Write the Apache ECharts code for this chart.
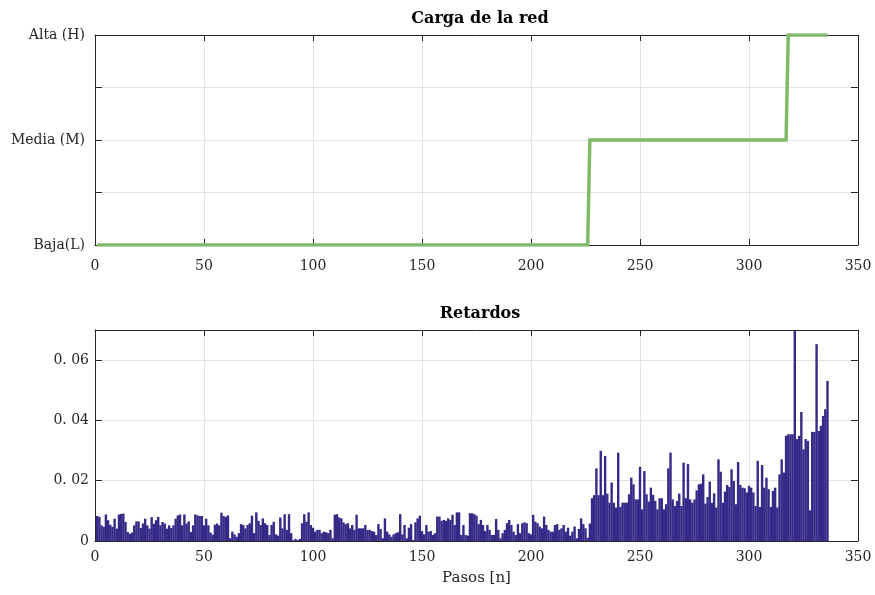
<!DOCTYPE html>
<html>
<head>
<meta charset="utf-8">
<script src="https://cdn.jsdelivr.net/npm/echarts@6/dist/echarts.min.js"></script>
<style>
html,body{margin:0;padding:0;background:#fff;}
#chart{width:875px;height:595px;}
</style>
</head>
<body>
<div id="chart"></div>
<script>
// ---- Data ----
// Network load: step change points (step index, level 1=Baja, 2=Media, 3=Alta)
const loadSteps = [1, 226, 227, 317, 318, 336];
const loadLevels = [1, 1, 2, 2, 3, 3];
const loadLevelLabels = ['Baja(L)', 'Media (M)', 'Alta (H)'];

// Delays per step n = 1..336, in thousandths (x 0.001)
const delaysMilli = [
  8.3, 8.0, 5.2, 4.7, 8.8, 6.9, 5.4, 4.7, 7.4, 4.1, 8.8, 9.0, 9.1, 6.3, 3.0, 2.4, 2.8, 5.2, 6.5, 6.5,
  4.3, 5.8, 7.4, 5.2, 4.1, 7.9, 5.7, 6.9, 8.0, 5.2, 6.3, 5.8, 4.1, 5.2, 4.3, 5.2, 7.4, 8.5, 8.8, 5.2,
  8.8, 5.8, 6.5, 3.0, 5.2, 8.8, 8.5, 8.3, 8.3, 5.2, 7.4, 5.2, 2.8, 2.1, 5.4, 5.8, 5.2, 9.4, 8.3, 8.0,
  8.5,
  0.9, 3.1, 2.2, 1.4, 2.6, 5.6, 5.3, 4.2, 5.3, 5.9, 8.4, 2.6, 9.5, 6.7, 5.3, 7.5, 5.9, 5.3, 2.0, 5.3,
  6.4, 2.2, 1.8, 7.8, 4.2, 8.9, 3.7, 8.9, 2.6, 0.3, 0.7, 0.3, 0.7, 5.9, 8.9, 6.4, 9.5, 5.3, 4.4, 3.1,
  3.7, 3.7, 2.6, 3.1, 2.9, 2.6, 3.7, 0.9, 8.7, 8.9, 7.8, 7.5, 6.2, 5.6, 5.9, 4.2, 5.3, 3.7, 8.7, 4.2,
  4.2, 4.2,
  5.3, 3.7, 3.7, 3.3, 3.1, 2.0, 5.6, 4.0, 0.9, 7.5, 3.1, 2.2, 1.4, 2.2, 2.6, 2.9, 8.9, 2.2, 5.3, 0.9,
  4.4, 5.6, 0.3, 6.2, 7.5, 8.4, 3.3, 2.2, 5.3, 3.1, 3.3, 2.0, 2.6, 8.1, 8.1, 6.7, 7.0, 6.7, 7.5, 7.0,
  8.7, 5.3, 9.5, 9.5, 2.0, 5.3, 2.0, 1.8, 9.2, 9.2, 8.9, 8.4, 5.6, 7.0, 5.3, 3.3, 5.3, 3.7, 2.0, 2.0,
  7.3, 3.7, 0.9, 2.6, 3.7, 5.9, 7.0, 5.3, 3.1, 2.0, 5.6, 2.6, 5.9, 6.2, 5.9, 2.6, 2.2, 8.7, 6.4, 5.9,
  4.8, 4.2, 8.1, 5.3, 3.7, 3.1, 3.1, 5.3, 5.6, 3.7, 4.2, 5.3, 3.1, 4.4, 1.8, 3.1, 4.8, 0.9, 4.0, 7.5,
  5.6,
  4.2, 1.1, 5.8, 14.2, 15.2, 24.1, 15.2, 29.9, 15.2, 28.2, 15.7, 12.7, 19.4, 12.7, 11.1, 29.3, 11.3, 12.7, 12.7, 12.7,
  15.5, 21.0, 18.8, 13.8, 13.8, 24.6, 10.5, 23.2, 15.5, 13.1, 17.7, 15.3, 13.3, 10.5, 14.2, 14.2, 10.5, 12.2, 24.1, 29.3,
  13.8, 11.6, 13.3, 15.7, 11.6, 26.0, 14.2, 25.5, 13.8, 12.7, 13.8, 16.8, 18.8,
  19.0, 22.1, 12.4, 14.6, 19.7, 12.7, 15.8, 11.1, 27.1, 23.0, 12.7, 16.4, 18.6, 17.9, 23.8, 19.9, 12.2, 26.2, 18.6, 17.7,
  17.5, 16.1, 18.3, 17.7, 16.1, 11.6, 26.6, 11.3, 25.2, 17.7, 21.0, 17.2, 11.3, 16.6, 17.7, 11.1, 22.1, 27.1, 22.7, 34.9,
  35.4, 35.4, 35.4, 72.0, 33.8, 34.9, 42.8, 30.4, 33.8, 33.2, 10.2, 36.2, 36.2, 65.3, 36.5, 38.2, 41.5, 43.7, 53.1
];
const delayTickLabels = ['0', '0. 02', '0. 04', '0. 06'];
const xTickValues = [0, 50, 100, 150, 200, 250, 300, 350];

// ---- Chart ----
const FONT = '"DejaVu Serif", "Liberation Serif", serif';
const TXT = '#262626';
const AX = '#262626';
const GRID = '#e3e3e3';

const loadData = loadSteps.map((x, i) => [x, loadLevels[i]]);
const delayData = delaysMilli.map((v, i) => [i + 1, v / 1000]);

function boxXAxis(gridIndex, position, showLabels, margin) {
  return {
    type: 'value', gridIndex: gridIndex, position: position,
    min: 0, max: 350, interval: 50,
    axisLine: {show: true, onZero: false, lineStyle: {color: AX, width: 1}},
    axisTick: {show: true, inside: true, length: 6, lineStyle: {color: AX}},
    axisLabel: {show: showLabels, color: TXT, fontFamily: FONT, fontSize: 14, margin: margin,
      formatter: v => xTickValues.indexOf(v) >= 0 ? String(v) : ''},
    splitLine: {show: position === 'bottom', lineStyle: {color: GRID, width: 1}}
  };
}

function boxYAxis(gridIndex, position, min, max, interval, label) {
  return {
    type: 'value', gridIndex: gridIndex, position: position, min: min, max: max, interval: interval,
    axisLine: {show: true, onZero: false, lineStyle: {color: AX, width: 1}},
    axisTick: {show: true, inside: true, length: 7, lineStyle: {color: AX}},
    axisLabel: label ? Object.assign({color: TXT, fontFamily: FONT, fontSize: 14}, label) : {show: false},
    splitLine: {show: position === 'left', lineStyle: {color: GRID, width: 1}}
  };
}

const option = {
  backgroundColor: '#ffffff',
  animation: false,
  title: [
    {text: 'Carga de la red', left: 475, top: 6, textAlign: 'center',
      textStyle: {fontFamily: FONT, fontWeight: 'bold', fontSize: 16, color: '#000'}},
    {text: 'Retardos', left: 475, top: 301, textAlign: 'center',
      textStyle: {fontFamily: FONT, fontWeight: 'bold', fontSize: 16, color: '#000'}}
  ],
  grid: [
    {left: 95, right: 17, top: 35, height: 210},
    {left: 95, right: 17, top: 330, height: 211}
  ],
  xAxis: [
    boxXAxis(0, 'bottom', true, 14),
    boxXAxis(0, 'top', false, 8),
    Object.assign(boxXAxis(1, 'bottom', true, 9), {
      name: 'Pasos [n]', nameLocation: 'middle', nameGap: 30,
      nameTextStyle: {fontFamily: FONT, fontSize: 15, color: TXT}
    }),
    boxXAxis(1, 'top', false, 8)
  ],
  yAxis: [
    boxYAxis(0, 'left', 1, 3, 0.5, {margin: 10,
      formatter: v => Number.isInteger(v) ? loadLevelLabels[v - 1] : ''}),
    boxYAxis(0, 'right', 1, 3, 0.5, null),
    boxYAxis(1, 'left', 0, 0.07, 0.02, {margin: 6,
      formatter: v => {
        const k = Math.round(v / 0.02);
        return Math.abs(v - k * 0.02) < 1e-9 && k < delayTickLabels.length ? delayTickLabels[k] : '';
      }}),
    boxYAxis(1, 'right', 0, 0.07, 0.02, null)
  ],
  series: [
    {
      type: 'line', xAxisIndex: 0, yAxisIndex: 0, data: loadData,
      showSymbol: false, symbol: 'none',
      lineStyle: {color: '#80b96a', width: 3.5, join: 'miter'}
    },
    {
      type: 'bar', xAxisIndex: 2, yAxisIndex: 2, data: delayData,
      barWidth: 2.4, clip: true,
      itemStyle: {color: '#352a87'}
    }
  ]
};

const chart = echarts.init(document.getElementById('chart'), null, {renderer: 'canvas'});
chart.setOption(option);
</script>
</body>
</html>
